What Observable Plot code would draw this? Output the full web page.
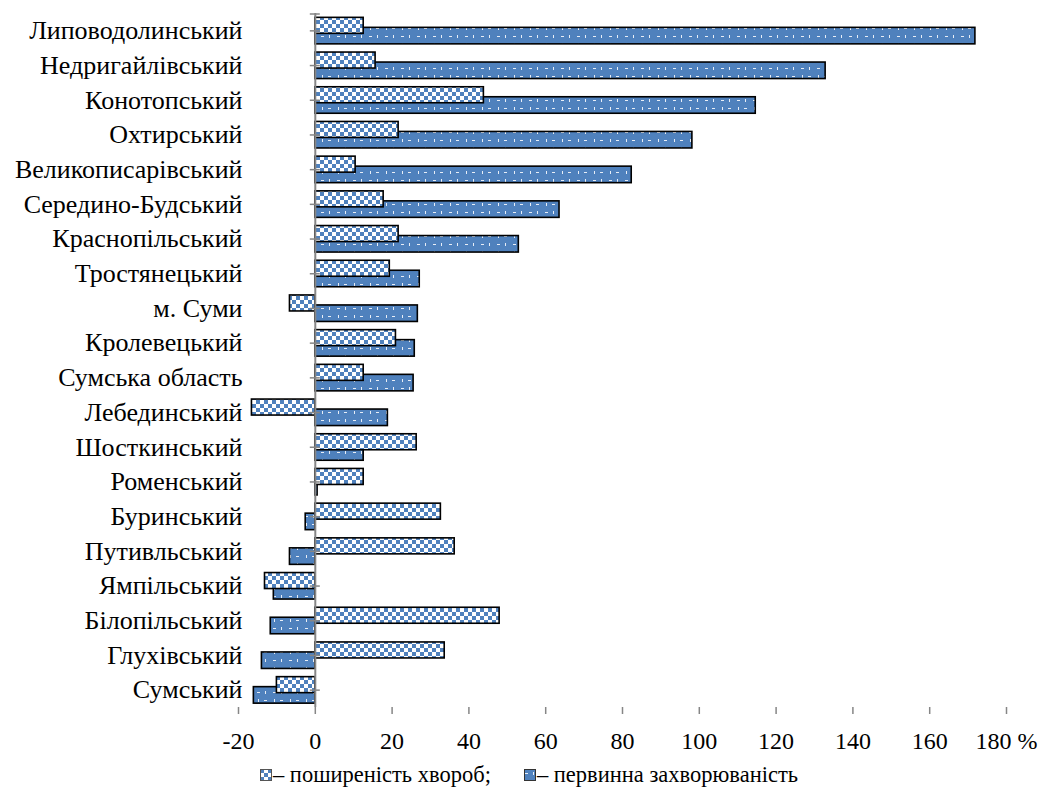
<!DOCTYPE html>
<html>
<head>
<meta charset="utf-8">
<script src="https://cdn.jsdelivr.net/npm/d3@7"></script>
<script src="https://cdn.jsdelivr.net/npm/@observablehq/plot@0.6"></script>
<style>
  body { margin: 0; background: #fff; font-family: "Liberation Serif", "Times New Roman", serif; }
  #chart svg { display: block; }
  #legend { display: flex; justify-content: center; align-items: center; gap: 33px; font-size: 22.5px; color: #000; height: 30px; margin-top: 0px; }
  #legend .item { display: flex; align-items: center; }
  #legend svg { margin-right: 1px; }
</style>
</head>
<body>
<svg width="0" height="0" style="position:absolute">
  <defs>
    <pattern id="checker" width="8" height="8" patternUnits="userSpaceOnUse">
      <rect width="8" height="8" fill="#ffffff"/>
      <rect width="4" height="4" fill="#4F81BD"/>
      <rect x="4" y="4" width="4" height="4" fill="#4F81BD"/>
    </pattern>
    <pattern id="dots" width="16" height="16" patternUnits="userSpaceOnUse">
      <rect width="16" height="16" fill="#4F81BD"/>
      <rect x="1" y="4" width="3" height="1" fill="#e8eef7"/>
      <rect x="9" y="3" width="1" height="3" fill="#e8eef7"/>
      <rect x="2" y="11" width="1" height="3" fill="#e8eef7"/>
      <rect x="8" y="12" width="3" height="1" fill="#e8eef7"/>
    </pattern>
  </defs>
</svg>
<div id="chart"></div>
<div id="legend">
  <div class="item"><svg width="12" height="12"><rect x="0.5" y="0.5" width="11" height="11" fill="url(#checker)" stroke="#555"/></svg>– поширеність хвороб;</div>
  <div class="item"><svg width="12" height="12"><rect x="0.5" y="0.5" width="11" height="11" fill="url(#dots)" stroke="#333"/></svg>– первинна захворюваність</div>
</div>
<script>
const categories = ["Липоводолинський","Недригайлівський","Конотопський","Охтирський","Великописарівський","Середино-Будський","Краснопільський","Тростянецький","м. Суми","Кролевецький","Сумська область","Лебединський","Шосткинський","Роменський","Буринський","Путивльський","Ямпільський","Білопільський","Глухівський","Сумський"];
const prevalence = [12.6, 15.7, 43.9, 21.7, 10.5, 17.8, 21.7, 19.4, -6.6, 21.0, 12.6, -16.5, 26.4, 12.6, 32.7, 36.3, -13.1, 48.0, 33.7, -10.0];
const incidence = [171.9, 132.9, 114.7, 98.2, 82.4, 63.6, 53.0, 27.2, 26.7, 25.9, 25.6, 18.9, 12.6, 0.6, -2.5, -6.6, -10.8, -11.6, -13.9, -16.0];
const xTicks = [-20, 0, 20, 40, 60, 80, 100, 120, 140, 160, 180];
const xTickLabels = ["-20", "0", "20", "40", "60", "80", "100", "120", "140", "160", "180 %"];

const rows = categories.map((c, i) => ({region: c, prev: prevalence[i], inc: incidence[i]}));
const H = 760, mTop = 13, mBottom = 53;
const band = (H - mTop - mBottom) / categories.length;

const chart = Plot.plot({
  width: 1058,
  height: H,
  marginLeft: 238,
  marginRight: 52,
  marginTop: mTop,
  marginBottom: mBottom,
  style: {fontFamily: "'Liberation Serif', 'Times New Roman', serif", fontSize: "24px", color: "#000", background: "#fff"},
  x: {domain: [-20, 180]},
  y: {domain: categories, padding: 0, round: false},
  marks: [
    Plot.barX(rows, {y: "region", x: "inc", fill: "url(#dots)", stroke: "#000", strokeWidth: 1.6, insetTop: band / 2 - 3, insetBottom: band / 2 - 13.5}),
    Plot.barX(rows, {y: "region", x: "prev", fill: "url(#checker)", stroke: "#000", strokeWidth: 1.6, insetTop: band / 2 - 13, insetBottom: band / 2 - 3}),
    Plot.ruleX([0], {stroke: "#868686", strokeWidth: 2}),
    Plot.ruleY(categories, {y: d => d, x1: 0, x2: 0, insetLeft: -5, insetRight: -5, stroke: "#868686", strokeWidth: 1.5}),
    Plot.ruleY(categories.slice(0, 1), {y: d => d, x1: 0, x2: 0, insetLeft: -5, insetRight: -5, dy: -band / 2 + 0.5, stroke: "#868686", strokeWidth: 1.5}),
    Plot.axisY({tickSize: 0, tickPadding: -4, label: null, fontSize: 26, fill: "#000"}),
    Plot.axisX({ticks: xTicks, tickFormat: d => xTickLabels[xTicks.indexOf(d)], tickSize: 7, tickPadding: 17, stroke: "#868686", strokeWidth: 1.5, fill: "#000", label: null, fontSize: 24, line: true})
  ]
});
document.getElementById("chart").appendChild(chart);
</script>
</body>
</html>
